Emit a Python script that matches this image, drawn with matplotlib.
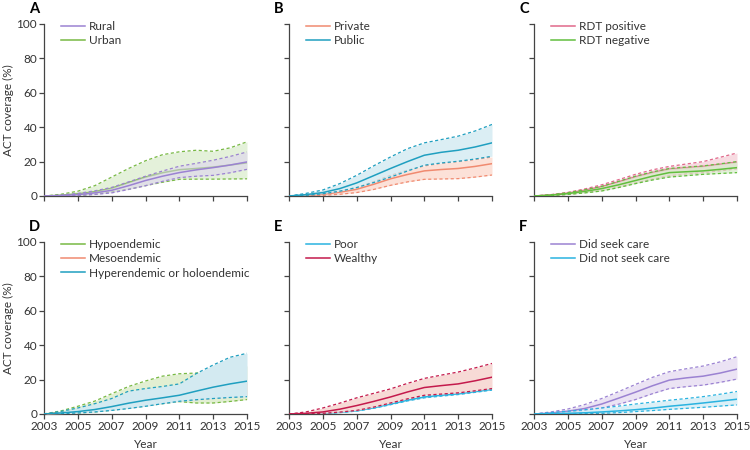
import matplotlib
matplotlib.use("Agg")
import matplotlib.pyplot as plt

plt.rcParams['font.family'] = ['Lato', 'DejaVu Sans']

years = list(range(2003, 2016))

# panel A
rural_mean = [0, 0.3, 0.8, 1.8, 3.3, 6, 9, 11.5, 13.6, 15.2, 16.5, 18, 19.8]
rural_hi = [0, 0.5, 1.5, 3, 5, 8.2, 11.5, 14.5, 17.3, 19, 20.8, 23, 25.6]
rural_lo = [0, 0.1, 0.4, 0.9, 1.8, 3.8, 6, 8.5, 10.7, 11.5, 12, 13.5, 15.5]
urban_mean = [0, 0.4, 1.2, 2.5, 4.5, 7.8, 11, 13.5, 15.3, 16, 16.8, 18, 19.3]
urban_hi = [0, 1, 2.8, 6, 11, 16, 20.5, 24, 25.7, 26.6, 26, 28, 31.5]
urban_lo = [0, 0.1, 0.4, 1, 2.3, 4, 6, 8, 9.7, 9.8, 9.8, 9.9, 10]

# panel B
private_mean = [0, 0.3, 1, 2.2, 3.9, 6.8, 10, 12.5, 14.6, 15.4, 16, 17.2, 18.8]
private_hi = [0, 0.4, 1.2, 2.8, 5, 8.3, 12, 15, 17.5, 19, 20, 21.2, 22.7]
private_lo = [0, 0.1, 0.4, 1, 2, 3.8, 6.2, 8.2, 9.7, 9.9, 10.1, 11, 12.2]
public_mean = [0, 0.8, 2, 4.3, 7.6, 11.8, 16, 20, 23.7, 25.4, 26.6, 28.5, 30.9]
public_hi = [0, 1.5, 3.5, 7.2, 12, 17.5, 22.7, 27.5, 30.9, 32.8, 34.8, 37.8, 41.6]
public_lo = [0, 0.4, 1.3, 2.8, 4.9, 7.8, 11, 14.5, 17.9, 19.2, 20.2, 21.5, 23.1]

# panel C
pos_mean = [0, 0.6, 1.7, 3.4, 5.4, 8.2, 11.1, 13.6, 15.6, 16.4, 17.2, 18.4, 19.7]
pos_hi = [0, 0.8, 2.1, 4.1, 6.5, 9.5, 12.6, 15.2, 17.2, 18.6, 20, 22.5, 25]
pos_lo = [0, 0.3, 1, 2, 3.2, 5.3, 7.6, 9.8, 11.8, 12.8, 13.6, 14.6, 15.8]
neg_mean = [0, 0.5, 1.4, 2.7, 4.3, 6.5, 9, 11.5, 13.6, 14.1, 14.6, 15.5, 16.5]
neg_hi = [0, 0.7, 1.9, 3.6, 5.6, 8.5, 11.5, 14, 16, 16.8, 17.5, 18.7, 20]
neg_lo = [0, 0.3, 0.9, 1.8, 2.9, 4.9, 7.2, 9.3, 11, 11.8, 12.6, 13.1, 13.6]

# panel D
hypo_mean = [0, 0.8, 2, 3.5, 5.5, 8, 10, 11.5, 12.5, 13.3, 14, 15, 16]
hypo_hi = [0, 1.8, 4.5, 7.5, 11.8, 16, 19.2, 22, 23.4, 23.8, 24.5, 26, 28]
hypo_lo = [0, 0.2, 0.6, 1.2, 2.2, 3.4, 4.6, 6, 7.2, 6.4, 6.4, 7.3, 8.4]
meso_mean = [0, 0.5, 1.2, 2.3, 3.8, 5.5, 7, 8.2, 9.5, 10.5, 11.5, 12.5, 13.5]
meso_hi = [0, 0.8, 1.8, 3.3, 5.5, 8, 10, 11.5, 13, 14.5, 16, 17.5, 19]
meso_lo = [0, 0.3, 0.8, 1.5, 2.5, 3.8, 5, 6.2, 7.6, 8.4, 9.1, 9.8, 10.3]
hyper_mean = [0, 0.6, 1.4, 2.6, 4.3, 6.3, 8, 9.4, 10.9, 13.3, 15.6, 17.5, 19.1]
hyper_hi = [0, 1.5, 3.5, 6, 9, 13.3, 14.8, 16, 17.5, 23.5, 28.5, 33, 35.3]
hyper_lo = [0, 0.2, 0.6, 1.2, 2.1, 3.2, 4.5, 6, 7.4, 8.3, 9, 9.6, 10.1]

# panel E
poor_mean = [0, 0.1, 0.4, 1, 1.9, 3.6, 5.8, 8, 9.9, 10.9, 11.7, 13, 14.3]
poor_hi = [0, 0.15, 0.5, 1.1, 2.1, 3.9, 6.2, 8.5, 10.4, 11.3, 12.1, 13.3, 14.7]
poor_lo = [0, 0.05, 0.3, 0.8, 1.7, 3.3, 5.4, 7.6, 9.4, 10.4, 11.3, 12.6, 13.9]
wealthy_mean = [0, 0.4, 1.2, 2.8, 4.9, 7.3, 9.9, 12.8, 15.4, 16.5, 17.5, 19.3, 21.4]
wealthy_hi = [0, 1.2, 3.5, 6.3, 9.4, 12, 14.6, 17.8, 20.7, 22.6, 24.4, 26.8, 29.4]
wealthy_lo = [0, 0.1, 0.4, 1.1, 2.1, 4, 6.4, 8.8, 10.9, 11.6, 12.3, 13.5, 14.8]

# panel F
seek_mean = [0, 0.6, 1.6, 3.2, 5.8, 9.2, 12.7, 16.4, 19.7, 21, 22, 23.8, 26.1]
seek_hi = [0, 1.2, 2.9, 5.5, 9, 13, 17.2, 21.3, 24.6, 26.3, 27.9, 30.3, 33.3]
seek_lo = [0, 0.4, 1, 2, 3.5, 5.7, 8.4, 11.8, 14.8, 15.9, 16.8, 18.4, 20.3]
noseek_mean = [0, 0.2, 0.4, 0.7, 1.2, 1.8, 2.5, 3.4, 4.5, 5.4, 6.4, 7.5, 8.6]
noseek_hi = [0, 0.8, 1.6, 2.5, 3.5, 4.6, 5.8, 6.9, 8, 9, 10.1, 11.5, 13.1]
noseek_lo = [0, 0.1, 0.2, 0.3, 0.4, 0.8, 1.4, 2, 2.7, 3.3, 3.9, 4.6, 5.3]

purple = '#9b82d2'
green = '#78b944'
salmon = '#f08a70'
teal = '#1f9fc0'
pink = '#e0688a'
lgreen = '#62bf3e'
cyan = '#2ab3e0'
crimson = '#c41a4c'

# (label, mean, hi, lo, line colour, fill colour, fill alpha)
panels = [
    ('A', [('Urban', urban_mean, urban_hi, urban_lo, green, '#cfe6bd', 0.55),
           ('Rural', rural_mean, rural_hi, rural_lo, purple, '#ddd2f0', 0.55)],
     ['Rural', 'Urban']),
    ('B', [('Private', private_mean, private_hi, private_lo, salmon, '#fbd5c8', 0.7),
           ('Public', public_mean, public_hi, public_lo, teal, '#cce8f0', 0.7)],
     ['Private', 'Public']),
    ('C', [('RDT positive', pos_mean, pos_hi, pos_lo, pink, '#f6d3da', 0.8),
           ('RDT negative', neg_mean, neg_hi, neg_lo, lgreen, '#d6ecc9', 0.7)],
     ['RDT positive', 'RDT negative']),
    ('D', [('Hypoendemic', hypo_mean, hypo_hi, hypo_lo, green, '#e2efd2', 1.0),
           ('Mesoendemic', meso_mean, meso_hi, meso_lo, salmon, '#fbd5c8', 1.0),
           ('Hyperendemic or holoendemic', hyper_mean, hyper_hi, hyper_lo, teal, '#d3eaf1', 1.0)],
     ['Hypoendemic', 'Mesoendemic', 'Hyperendemic or holoendemic']),
    ('E', [('Poor', poor_mean, poor_hi, poor_lo, cyan, '#cdebf5', 0.7),
           ('Wealthy', wealthy_mean, wealthy_hi, wealthy_lo, crimson, '#f7d6d2', 0.9)],
     ['Poor', 'Wealthy']),
    ('F', [('Did seek care', seek_mean, seek_hi, seek_lo, purple, '#e6ddf2', 0.8),
           ('Did not seek care', noseek_mean, noseek_hi, noseek_lo, cyan, '#d3edf5', 0.8)],
     ['Did seek care', 'Did not seek care']),
]

fig = plt.figure(figsize=(7.5, 4.5), dpi=100)
lefts = [44 / 750, 289 / 750, 534 / 750]
bottoms = [1 - 196 / 450, 1 - 414 / 450]
w = 203 / 750
h = 172 / 450
axis_col = '#444444'
txt_col = '#333333'
fs = 8.5

for i, (letter, series, order) in enumerate(panels):
    row, col = divmod(i, 3)
    ax = fig.add_axes([lefts[col], bottoms[row], w, h])
    handles = {}
    z = 1
    for name, m, hi, lo, c, fc, fa in series:
        ax.fill_between(years, lo, hi, color=fc, alpha=fa, lw=0, zorder=z)
        ax.plot(years, hi, color=c, lw=0.9, ls=(0, (2.5, 2)), zorder=z + 0.5)
        ax.plot(years, lo, color=c, lw=0.9, ls=(0, (2.5, 2)), zorder=z + 0.5)
        ln, = ax.plot(years, m, color=c, lw=1.1, zorder=z + 0.6)
        handles[name] = ln
        z += 1
    ax.set_xlim(2003, 2015)
    ax.set_ylim(0, 100)
    ax.set_xticks(range(2003, 2016, 2))
    ax.set_yticks(range(0, 101, 20))
    for s in ['top', 'right']:
        ax.spines[s].set_visible(False)
    for s in ['left', 'bottom']:
        ax.spines[s].set_color(axis_col)
        ax.spines[s].set_linewidth(0.9)
    ax.tick_params(direction='out', length=3.5, width=0.9, color=axis_col,
                   labelsize=fs, labelcolor=txt_col, pad=1.5)
    if row == 0:
        ax.set_xticklabels([])
    else:
        ax.set_xlabel('Year', fontsize=fs, color=txt_col, labelpad=5)
    if col != 0:
        ax.set_yticklabels([])
    else:
        ax.set_ylabel('ACT coverage (%)', fontsize=fs, color=txt_col, labelpad=2)
    leg = ax.legend([handles[n] for n in order], order, loc='upper left',
                    bbox_to_anchor=(0.06, 1.045), frameon=False, fontsize=fs,
                    handlelength=2.0, handletextpad=0.4, labelspacing=0.28,
                    borderaxespad=0)
    for t in leg.get_texts():
        t.set_color(txt_col)
    fig.text(lefts[col] - 15 / 750, bottoms[row] + h + 15 / 450, letter,
             fontsize=10.5, fontweight='bold', va='center', ha='left')

fig.savefig('out.png', dpi=100)
